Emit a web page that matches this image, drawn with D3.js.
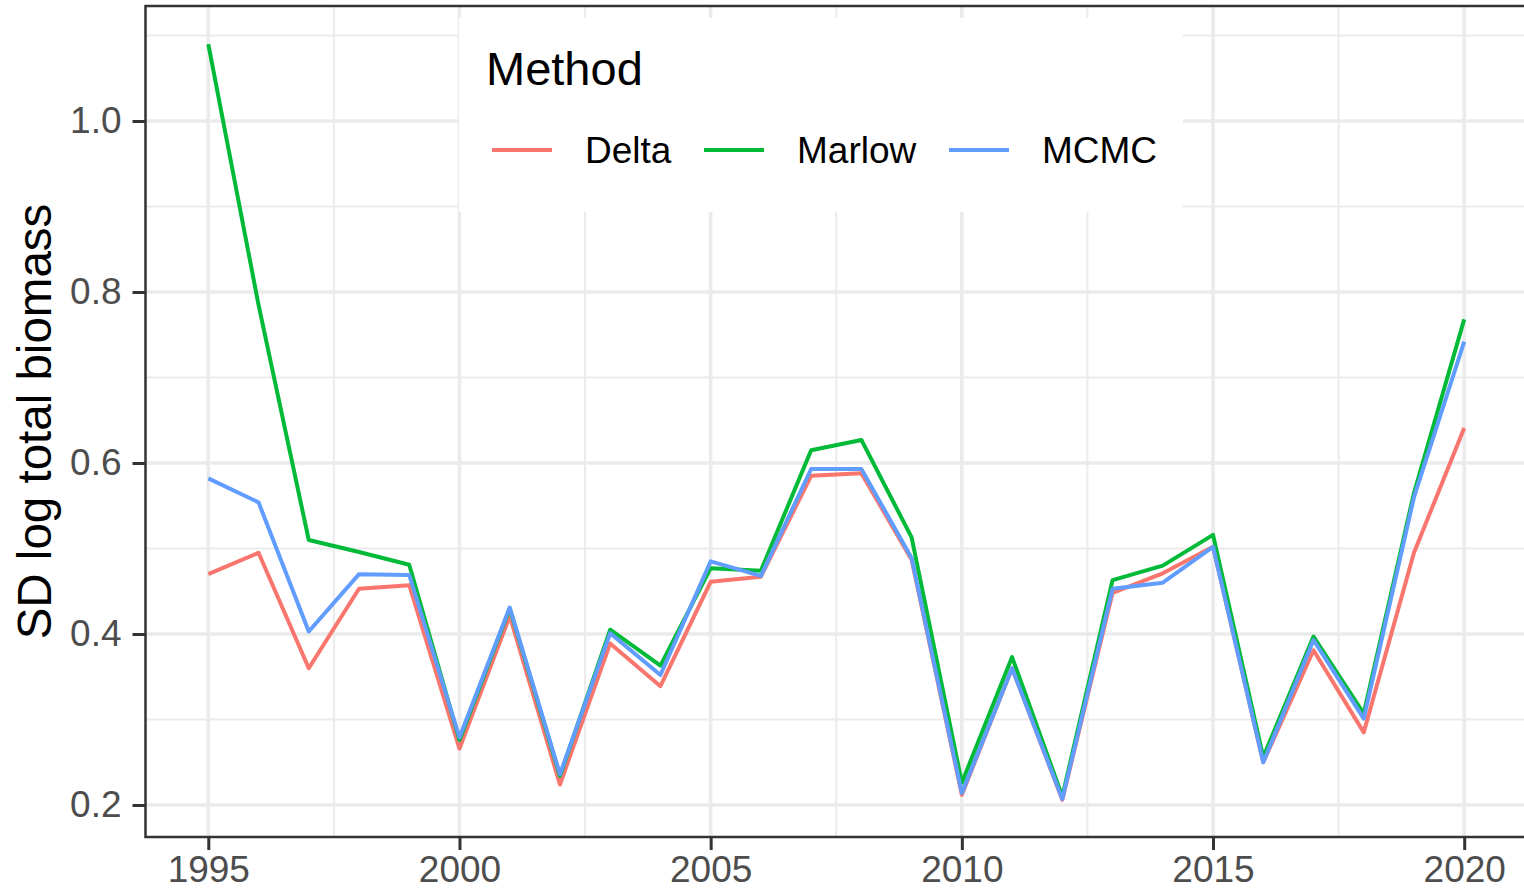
<!DOCTYPE html>
<html>
<head>
<meta charset="utf-8">
<script src="https://cdn.jsdelivr.net/npm/d3@7"></script>
<style>
    html, body { margin: 0; padding: 0; background: #fff; }
    svg { display: block; font-family: "Liberation Sans", Arial, sans-serif; }
</style>
</head>
<body>
<svg width="1524" height="890"></svg>
<script>
// values
const years = [1995, 1996, 1997, 1998, 1999, 2000, 2001, 2002, 2003, 2004, 2005, 2006, 2007,
    2008, 2009, 2010, 2011, 2012, 2013, 2014, 2015, 2016, 2017, 2018, 2019, 2020];
const delta = [0.470, 0.495, 0.360, 0.453, 0.457, 0.266, 0.421, 0.224, 0.389, 0.339, 0.461, 0.467, 0.585,
    0.588, 0.487, 0.212, 0.360, 0.206, 0.448, 0.471, 0.502, 0.250, 0.381, 0.285, 0.495, 0.641];
const marlow = [1.090, 0.785, 0.510, 0.496, 0.481, 0.276, 0.430, 0.234, 0.405, 0.363, 0.477, 0.474, 0.615,
    0.627, 0.513, 0.226, 0.373, 0.210, 0.463, 0.480, 0.516, 0.256, 0.397, 0.307, 0.565, 0.768];
const mcmc = [0.582, 0.554, 0.403, 0.470, 0.469, 0.279, 0.431, 0.236, 0.401, 0.352, 0.485, 0.468, 0.593,
    0.593, 0.489, 0.214, 0.360, 0.207, 0.453, 0.460, 0.502, 0.250, 0.393, 0.301, 0.560, 0.742];

const methods = ["Delta", "Marlow", "MCMC"];
const colors = ["#F8766D", "#00BA38", "#619CFF"];
const xTicks = [1995, 2000, 2005, 2010, 2015, 2020];
const yTicks = [0.2, 0.4, 0.6, 0.8, 1.0];
const xMinor = [1997.5, 2002.5, 2007.5, 2012.5, 2017.5];
const yMinor = [0.3, 0.5, 0.7, 0.9, 1.1];

const series = methods.map((m, i) => ({
    name: m,
    color: colors[i],
    values: years.map((yr, j) => ({ year: yr, v: [delta, marlow, mcmc][i][j] }))
}));

const svg = d3.select("svg");
const panel = { left: 145.5, right: 1527, top: 6, bottom: 837 };

const x = d3.scaleLinear().domain([1993.75, 2021.25]).range([panel.left, panel.right]);
const y = d3.scaleLinear().domain([0.1626, 1.1345]).range([panel.bottom, panel.top]);

svg.append("rect").attr("width", 1524).attr("height", 890).attr("fill", "#fff");

svg.append("defs").append("clipPath").attr("id", "clip")
    .append("rect")
    .attr("x", panel.left).attr("y", panel.top)
    .attr("width", panel.right - panel.left).attr("height", panel.bottom - panel.top);

const plot = svg.append("g").attr("clip-path", "url(#clip)");

// grid, minor first then major
const grid = plot.append("g").attr("stroke", "#EBEBEB");
grid.selectAll(".vmin").data(xMinor).join("line")
    .attr("x1", d => x(d)).attr("x2", d => x(d))
    .attr("y1", panel.top).attr("y2", panel.bottom)
    .attr("stroke-width", 2);
grid.selectAll(".hmin").data(yMinor).join("line")
    .attr("y1", d => y(d)).attr("y2", d => y(d))
    .attr("x1", panel.left).attr("x2", panel.right)
    .attr("stroke-width", 2);
grid.selectAll(".vmaj").data(xTicks).join("line")
    .attr("x1", d => x(d)).attr("x2", d => x(d))
    .attr("y1", panel.top).attr("y2", panel.bottom)
    .attr("stroke-width", 3.6);
grid.selectAll(".hmaj").data(yTicks).join("line")
    .attr("y1", d => y(d)).attr("y2", d => y(d))
    .attr("x1", panel.left).attr("x2", panel.right)
    .attr("stroke-width", 3.6);

// the three series
const line = d3.line().x(d => x(d.year)).y(d => y(d.v));
plot.append("g").selectAll("path").data(series).join("path")
    .attr("d", d => line(d.values))
    .attr("fill", "none")
    .attr("stroke", d => d.color)
    .attr("stroke-width", 4)
    .attr("stroke-linejoin", "round");

// legend sits inside the panel
const legend = svg.append("g");
legend.append("rect")
    .attr("x", 459).attr("y", 18).attr("width", 724).attr("height", 194)
    .attr("fill", "#fff");
legend.append("text")
    .attr("x", 486).attr("y", 85)
    .attr("font-size", 47).attr("fill", "#000")
    .text("Method");
const keyX = [492, 704, 949];
const item = legend.selectAll(".item").data(series).join("g")
    .attr("transform", (d, i) => `translate(${keyX[i]},0)`);
item.append("line")
    .attr("x1", 0).attr("x2", 60).attr("y1", 150).attr("y2", 150)
    .attr("stroke", d => d.color).attr("stroke-width", 4);
item.append("text")
    .attr("x", 93).attr("y", 163)
    .attr("font-size", 37).attr("fill", "#000")
    .text(d => d.name);

// axes
const xAxis = svg.append("g")
    .attr("transform", `translate(0,${panel.bottom})`)
    .call(d3.axisBottom(x).tickValues(xTicks).tickFormat(d3.format("d")).tickSize(13).tickPadding(6));
const yAxis = svg.append("g")
    .attr("transform", `translate(${panel.left},0)`)
    .call(d3.axisLeft(y).tickValues(yTicks).tickFormat(d3.format(".1f")).tickSize(13).tickPadding(11));

[xAxis, yAxis].forEach(ax => {
    ax.select(".domain").remove();
    ax.selectAll(".tick line").attr("stroke", "#333333").attr("stroke-width", 3);
    ax.selectAll(".tick text")
        .attr("font-size", 37)
        .attr("fill", "#4D4D4D")
        .attr("font-family", "Liberation Sans, Arial, sans-serif");
});
xAxis.selectAll(".tick text").attr("dy", "0.71em");

// panel border
svg.append("rect")
    .attr("x", panel.left).attr("y", panel.top)
    .attr("width", panel.right - panel.left).attr("height", panel.bottom - panel.top)
    .attr("fill", "none").attr("stroke", "#333333").attr("stroke-width", 2.5);

// y axis title
svg.append("text")
    .attr("transform", `translate(51,${(panel.top + panel.bottom) / 2}) rotate(-90)`)
    .attr("text-anchor", "middle")
    .attr("font-size", 47.5).attr("fill", "#000")
    .text("SD log total biomass");
</script>
</body>
</html>
